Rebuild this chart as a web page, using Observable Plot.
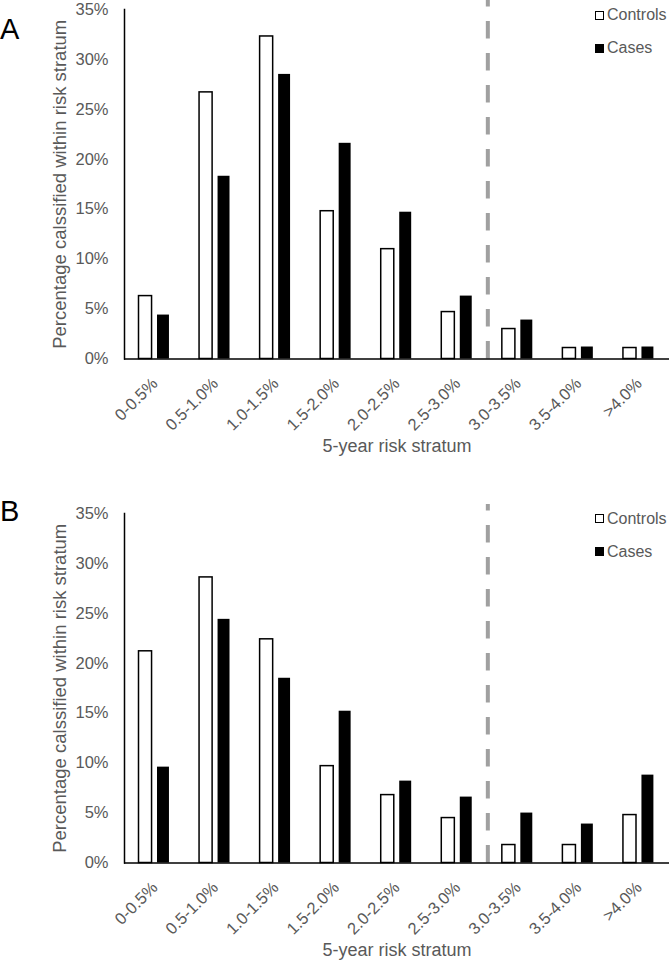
<!DOCTYPE html>
<html>
<head>
<meta charset="utf-8">
<script src="https://cdn.jsdelivr.net/npm/d3@7"></script>
<script src="https://cdn.jsdelivr.net/npm/@observablehq/plot@0.6"></script>
<style>
  body { margin: 0; background: #fff; font-family: "Liberation Sans", Arial, sans-serif; }
  #wrap { position: relative; width: 669px; height: 961px; overflow: hidden; background: #fff; }
  .panel { position: absolute; left: 0; width: 669px; }
  .tag { position: absolute; left: 0; font-size: 29px; line-height: 29px; color: #000; }
  .legend { position: absolute; left: 595px; font-size: 16px; color: #595959; }
  .legend .item { display: flex; align-items: center; height: 33px; }
  .legend .sw { width: 9px; height: 9px; box-sizing: border-box; margin-right: 3px; }
  .legend .sw.controls { background: #fff; border: 1.5px solid #000; }
  .legend .sw.cases { background: #000; }
  g[aria-label="y-axis label"] text { font-size: 18.5px; }
  g[aria-label="x-axis label"] text { font-size: 18px; }
</style>
</head>
<body>
<div id="wrap">
  <div class="panel" id="panelA" style="top:0px"></div>
  <div class="panel" id="panelB" style="top:504px"></div>
</div>
<script>
const categories = ["0-0.5%", "0.5-1.0%", "1.0-1.5%", "1.5-2.0%", "2.0-2.5%", "2.5-3.0%", "3.0-3.5%", "3.5-4.0%", ">4.0%"];
const controlsA = [6.3, 26.7, 32.3, 14.8, 11.0, 4.7, 3.0, 1.1, 1.1];
const casesA    = [4.4, 18.3, 28.5, 21.6, 14.7, 6.3, 3.9, 1.2, 1.2];
const controlsB = [21.2, 28.6, 22.4, 9.7, 6.8, 4.5, 1.8, 1.8, 4.8];
const casesB    = [9.6, 24.4, 18.5, 15.2, 8.2, 6.6, 5.0, 3.9, 8.8];
const yTicks = [0, 5, 10, 15, 20, 25, 30, 35];
const divider = ["3.0-3.5%"];
const seriesNames = ["Controls", "Cases"];
const panelTags = ["A", "B"];
const yTitle = "Percentage calssified within risk stratum";
const xTitle = "5-year risk stratum";

const W = 669, ML = 124;
const bandW = (W - ML) / categories.length;

function makePanel(controls, cases, height) {
  const rowsC = categories.map((c, i) => ({cat: c, v: controls[i]}));
  const rowsK = categories.map((c, i) => ({cat: c, v: cases[i]}));
  return Plot.plot({
    width: W,
    height: height,
    marginLeft: ML,
    marginRight: 0,
    marginTop: 9,
    marginBottom: height - 358.5,
    style: {fontFamily: "'Liberation Sans', Arial, sans-serif", fontSize: "16.5px", color: "#595959", background: "#fff", overflow: "visible"},
    x: {domain: categories, padding: 0, round: false, label: null},
    y: {domain: [0, 35], label: null},
    marks: [
      Plot.barY(rowsC, {x: "cat", y: "v", fill: "white", stroke: "black", strokeWidth: 1.5, insetLeft: 14.5, insetRight: 33}),
      Plot.barY(rowsK, {x: "cat", y: "v", fill: "black", insetLeft: 33, insetRight: 15.6}),
      Plot.ruleX(divider, {stroke: "#a0a0a0", strokeWidth: 4, strokeDasharray: "17.5,14.5", strokeDashoffset: 11, dx: -bandW / 2, insetTop: -9}),
      Plot.axisY(yTicks, {tickSize: 0, tickPadding: 16, tickFormat: d => d + "%", label: yTitle, labelAnchor: "center", labelArrow: "none", labelOffset: 72}),
      Plot.axisX({tickSize: 0, tickPadding: 22, tickRotate: -45, label: xTitle, labelAnchor: "center", labelArrow: "none", labelOffset: 92.5}),
      Plot.ruleY([0], {stroke: "black", strokeWidth: 1.5}),
      Plot.frame({anchor: "left", stroke: "black", strokeWidth: 1.5})
    ]
  });
}

function addOverlay(container, tag, tagTop, legendTop) {
  const t = document.createElement("div");
  t.className = "tag";
  t.style.top = tagTop + "px";
  t.textContent = tag;
  container.appendChild(t);
  const lg = document.createElement("div");
  lg.className = "legend";
  lg.style.top = legendTop + "px";
  seriesNames.forEach((name, i) => {
    const it = document.createElement("div");
    it.className = "item";
    const sw = document.createElement("span");
    sw.className = "sw " + (i === 0 ? "controls" : "cases");
    const tx = document.createElement("span");
    tx.textContent = name;
    it.appendChild(sw);
    it.appendChild(tx);
    lg.appendChild(it);
  });
  container.appendChild(lg);
}

const pA = document.getElementById("panelA");
pA.appendChild(makePanel(controlsA, casesA, 504));
addOverlay(pA, panelTags[0], 15, -1.5);

const pB = document.getElementById("panelB");
pB.appendChild(makePanel(controlsB, casesB, 457));
addOverlay(pB, panelTags[1], -7, -2);
</script>
</body>
</html>
